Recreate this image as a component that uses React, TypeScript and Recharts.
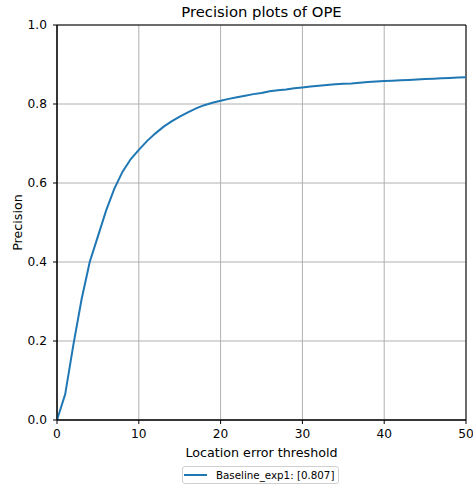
import React from 'react';
import { LineChart, Line, XAxis, YAxis, CartesianGrid, ReferenceArea } from 'recharts';

const thresholds = [
  0, 1, 2, 3, 4, 5, 6, 7, 8, 9, 10, 11, 12, 13, 14, 15, 16, 17, 18, 19, 20, 21, 22, 23, 24, 25,
  26, 27, 28, 29, 30, 31, 32, 33, 34, 35, 36, 37, 38, 39, 40, 41, 42, 43, 44, 45, 46, 47, 48, 49, 50,
];
const precision = [
  0, 0.065, 0.19, 0.305, 0.4, 0.465, 0.53, 0.585, 0.628, 0.66, 0.684, 0.706, 0.725, 0.742, 0.756,
  0.768, 0.779, 0.789, 0.797, 0.803, 0.808, 0.813, 0.817, 0.821, 0.825, 0.828, 0.832, 0.835, 0.837,
  0.84, 0.842, 0.844, 0.846, 0.848, 0.85, 0.851, 0.852, 0.854, 0.856, 0.857, 0.858, 0.859, 0.86,
  0.861, 0.862, 0.863, 0.864, 0.865, 0.866, 0.867, 0.868,
];
const xTicks = [0, 10, 20, 30, 40, 50];
const yTicks = [0, 0.2, 0.4, 0.6, 0.8, 1.0];
const seriesName = 'Baseline_exp1: [0.807]';
const title = 'Precision plots of OPE';
const xLabel = 'Location error threshold';
const yLabel = 'Precision';

const data = thresholds.map((x, i) => ({ x, p: precision[i] }));

const FONT = '"DejaVu Sans", sans-serif';
const BLUE = '#1f77b4';

const XLab = (props: any) => {
  const vb = props.viewBox || {};
  return (
    <text x={vb.x + vb.width / 2} y={vb.y + 36.5} textAnchor="middle" fontFamily={FONT} fontSize={12.7} fill="#000">
      {xLabel}
    </text>
  );
};

const YLab = (props: any) => {
  const vb = props.viewBox || {};
  const cx = 22;
  const cy = vb.y + vb.height / 2;
  return (
    <text x={cx} y={cy} textAnchor="middle" fontFamily={FONT} fontSize={12.7} fill="#000" transform={`rotate(-90, ${cx}, ${cy})`}>
      {yLabel}
    </text>
  );
};

export default function App() {
  return (
    <div style={{ position: 'absolute', left: 0, top: 0, width: 473, height: 488, background: '#fff', fontFamily: FONT }}>
      <LineChart width={473} height={488} data={data} margin={{ top: 25, right: 7, left: 0, bottom: 0 }}>
        <CartesianGrid stroke="#b0b0b0" strokeWidth={1} />
        <XAxis
          dataKey="x"
          type="number"
          domain={[0, 50]}
          ticks={xTicks}
          height={68}
          tickSize={4}
          tickMargin={5}
          tick={{ fill: '#000', fontSize: 12.2, fontFamily: FONT }}
          axisLine={{ stroke: '#000' }}
          tickLine={{ stroke: '#000' }}
          label={<XLab />}
          allowDataOverflow
        />
        <YAxis
          type="number"
          domain={[0, 1]}
          ticks={yTicks}
          width={57}
          tickSize={4}
          tickMargin={6}
          tickFormatter={(v: number) => v.toFixed(1)}
          tick={{ fill: '#000', fontSize: 12.2, fontFamily: FONT }}
          axisLine={{ stroke: '#000' }}
          tickLine={{ stroke: '#000' }}
          label={<YLab />}
          allowDataOverflow
        />
        <ReferenceArea x1={0} x2={50} y1={0} y2={1} fill="none" stroke="#000" strokeWidth={1} ifOverflow="visible" />
        <Line
          type="linear"
          dataKey="p"
          stroke={BLUE}
          strokeWidth={2}
          dot={false}
          isAnimationActive={false}
          name={seriesName}
        />
      </LineChart>
      <div
        style={{
          position: 'absolute',
          left: 57,
          width: 409,
          top: 4,
          textAlign: 'center',
          fontSize: 14.8,
          lineHeight: '15px',
          color: '#000',
          whiteSpace: 'nowrap',
        }}
      >
        {title}
      </div>
      <div
        style={{
          position: 'absolute',
          left: 182,
          top: 466,
          width: 157,
          height: 18,
          boxSizing: 'border-box',
          border: '1px solid #d0d0d0',
          borderRadius: 3,
          display: 'flex',
          alignItems: 'center',
          fontSize: 10.3,
          color: '#000',
          whiteSpace: 'nowrap',
        }}
      >
        <div style={{ width: 23, height: 2, background: BLUE, marginLeft: 1, marginRight: 9 }} />
        <span>{seriesName}</span>
      </div>
    </div>
  );
}
